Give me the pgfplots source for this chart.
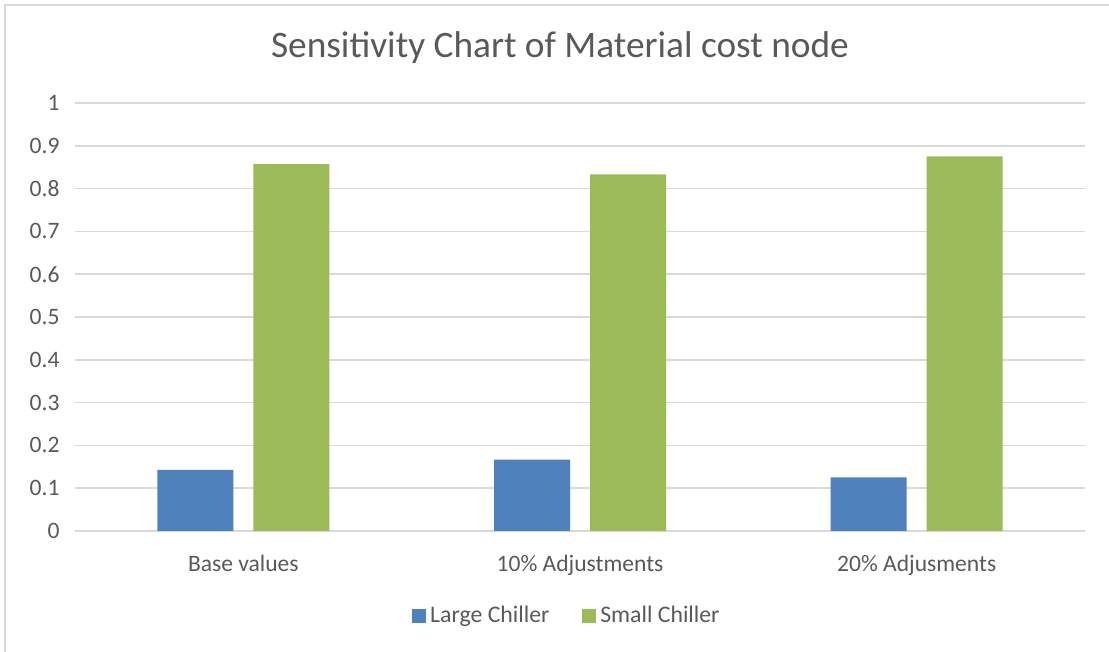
\documentclass[border=0pt]{standalone}
\usepackage{fontspec}
\setmainfont{Carlito}
\usepackage{pgfplots}
\pgfplotsset{compat=1.18}

\definecolor{barblue}{HTML}{4F81BD}
\definecolor{bargreen}{HTML}{9BBB59}
\definecolor{labelgray}{HTML}{595959}
\definecolor{gridgray}{HTML}{D9D9D9}

\begin{document}
\begin{tikzpicture}[x=0.45pt,y=0.45pt]
  % canvas and chart frame
  \path[use as bounding box] (0,0) rectangle (1109,652);
  \draw[gridgray, line width=0.9pt] (5,0) -- (5,647) -- (1109,647);

  % title
  \node[labelgray, font=\fontsize{16.8}{20}\selectfont] at (560,604)
    {Sensitivity Chart of Material cost node};

  \begin{axis}[
    at={(33.75pt,54.45pt)}, anchor=south west,
    scale only axis,
    width=454.5pt, height=192.6pt,
    xmin=-0.5, xmax=2.5,
    ymin=0, ymax=1,
    ybar=9pt, bar width=34.2pt,
    axis line style={draw=none},
    major tick length=0pt,
    xtick={0,1,2},
    xticklabels={Base values,10\% Adjustments,20\% Adjusments},
    ytick={0,0.1,0.2,0.3,0.4,0.5,0.6,0.7,0.8,0.9,1},
    yticklabels={0,0.1,0.2,0.3,0.4,0.5,0.6,0.7,0.8,0.9,1},
    ymajorgrids,
    grid style={gridgray, line width=0.7pt},
    tick label style={labelgray, font=\fontsize{10.6}{12}\selectfont, inner sep=0pt},
    yticklabel style={anchor=east, xshift=-6.75pt},
    xticklabel style={anchor=base, yshift=-18.45pt},
    legend columns=2,
    legend style={
      at={(0.488,-0.1986)}, anchor=center,
      draw=none, fill=none,
      font=\fontsize{10.7}{12}\selectfont, text=labelgray,
      /tikz/every even column/.append style={column sep=12.6pt},
      inner sep=0pt,
    },
    legend image code/.code={\fill[#1] (-1.5pt,-3.15pt) rectangle (4.8pt,3.15pt);},
  ]
    \addplot[fill=barblue, draw=none] coordinates {(0,0.143) (1,0.167) (2,0.125)};
    \addplot[fill=bargreen, draw=none] coordinates {(0,0.857) (1,0.833) (2,0.875)};
    \legend{Large Chiller, Small Chiller}
  \end{axis}
\end{tikzpicture}
\end{document}
